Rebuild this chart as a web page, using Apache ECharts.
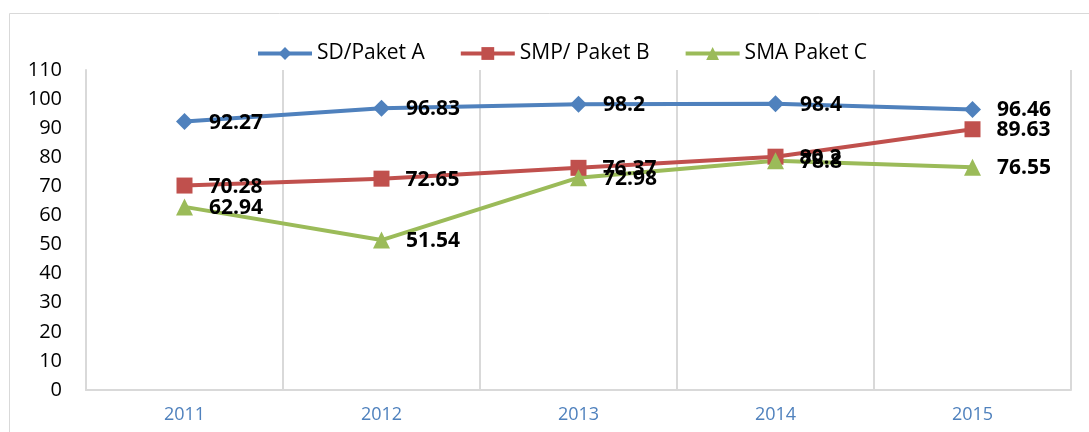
<!DOCTYPE html>
<html>
<head>
<meta charset="utf-8">
<script src="https://cdn.jsdelivr.net/npm/echarts@6/dist/echarts.min.js"></script>
<style>
  html, body { margin: 0; padding: 0; background: #fff; }
  #chart { width: 1089px; height: 432px; }
</style>
</head>
<body>
<div id="chart"></div>
<script>
const years = ["2011", "2012", "2013", "2014", "2015"];
const sdPaketA = [92.27, 96.83, 98.2, 98.4, 96.46];
const smpPaketB = [70.28, 72.65, 76.37, 80.2, 89.63];
const smaPaketC = [62.94, 51.54, 72.98, 78.8, 76.55];

const font = "'Open Sans', 'Noto Sans', sans-serif";

const labelStyle = {
  show: true,
  position: "right",
  distance: 16,
  fontFamily: font,
  fontSize: 21,
  fontWeight: "bold",
  color: "#000",
  offset: [0, 1]
};

function lineSeries(name, data, color, symbol, size) {
  return {
    name: name,
    type: "line",
    data: data,
    symbol: symbol,
    symbolSize: size,
    lineStyle: { color: color, width: 4 },
    itemStyle: { color: color },
    label: labelStyle,
    animation: false
  };
}

const grid = { left: 86, right: 18, top: 70, bottom: 42 };
const rightX = 1089 - grid.right;

const chart = echarts.init(document.getElementById("chart"));
chart.setOption({
  animation: false,
  graphic: {
    elements: [{
      type: "rect",
      shape: { x: 9.5, y: 13.5, width: 1200, height: 600 },
      style: { fill: "none", stroke: "#d9d9d9", lineWidth: 1 },
      silent: true,
      z: -1
    }, {
      // right edge of the plot frame
      type: "line",
      shape: { x1: rightX, y1: grid.top, x2: rightX, y2: 432 - grid.bottom },
      style: { stroke: "#d9d9d9", lineWidth: 2 },
      silent: true,
      z: 50
    }]
  },
  legend: {
    top: 38,
    left: 251,
    itemWidth: 54,
    itemHeight: 16,
    itemGap: 34,
    lineStyle: { width: 4 },
    textStyle: { fontFamily: font, fontSize: 21, color: "#000" },
    data: ["SD/Paket A", "SMP/ Paket B", "SMA Paket C"]
  },
  grid: grid,
  xAxis: {
    type: "category",
    data: years,
    boundaryGap: true,
    axisLine: { lineStyle: { color: "#d9d9d9", width: 2 } },
    axisTick: { show: false },
    splitLine: { show: true, lineStyle: { color: "#d9d9d9", width: 2 } },
    axisLabel: { color: "#4f81bd", fontFamily: font, fontSize: 18, margin: 16 }
  },
  yAxis: {
    type: "value",
    min: 0,
    max: 110,
    interval: 10,
    axisLine: { show: true, lineStyle: { color: "#d9d9d9", width: 2 } },
    axisTick: { show: false },
    splitLine: { show: false },
    axisLabel: { color: "#000", fontFamily: font, fontSize: 20, margin: 24 }
  },
  series: [
    lineSeries("SD/Paket A", sdPaketA, "#4f81bd", "diamond", 17),
    lineSeries("SMP/ Paket B", smpPaketB, "#c0504d", "rect", 16),
    lineSeries("SMA Paket C", smaPaketC, "#9bbb59", "triangle", 17)
  ]
});
</script>
</body>
</html>
